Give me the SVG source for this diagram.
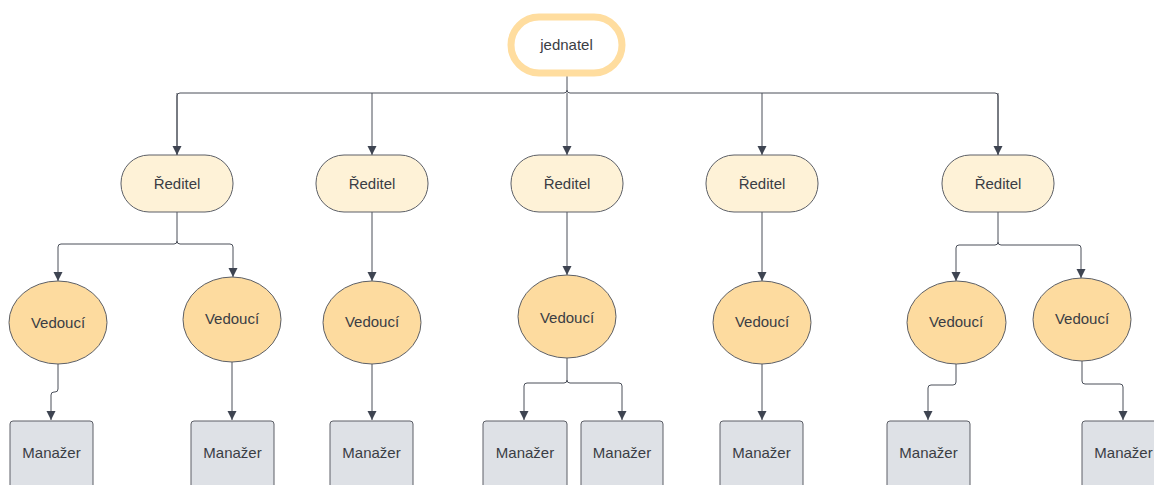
<svg xmlns="http://www.w3.org/2000/svg" width="1154" height="485" viewBox="0 0 1154 485">
<defs>
<marker id="arr" viewBox="0 0 10 10" refX="10" refY="5" markerWidth="9" markerHeight="10" markerUnits="userSpaceOnUse" orient="auto">
<path d="M0,0 L10,5 L0,10 Z" fill="#3e4451"/>
</marker>
<style>
.lbl{font-family:"Liberation Sans",Arial,sans-serif;font-size:15px;fill:#3a3d44;text-anchor:middle;dominant-baseline:central}
.dir{fill:#fef2d7;stroke:#5c5f66;stroke-width:1}
.ved{fill:#fddb9f;stroke:#5c5f66;stroke-width:1}
.man{fill:#dee1e6;stroke:#5c5f66;stroke-width:1}
.c{fill:none;stroke:#4a4f59;stroke-width:1}
.a{marker-end:url(#arr)}
</style>
</defs>
<rect width="1154" height="485" fill="#ffffff"/>
<g id="connectors">
<path class="c" d="M567,74 V90 Q567,93 564,93 H180 Q177,93 177,96 V155"/>
<path class="c" d="M567,90 Q567,93 570,93 H995 Q998,93 998,96 V155"/>
<path class="c a" d="M372,93 V155"/>
<path class="c a" d="M567,93 V155"/>
<path class="c a" d="M762,93 V155"/>
<path class="c a" d="M177,93 V155"/>
<path class="c a" d="M998,93 V155"/>
<path class="c a" d="M177,212 V241 Q177,244 174,244 H61 Q58,244 58,247 V281"/>
<path class="c a" d="M177,241 Q177,244 180,244 H230 Q233,244 233,247 V277"/>
<path class="c a" d="M372,212 V281"/>
<path class="c a" d="M567,212 V275"/>
<path class="c a" d="M762,212 V281"/>
<path class="c a" d="M998,212 V242 Q998,245 995,245 H959 Q956,245 956,248 V281"/>
<path class="c a" d="M998,242 Q998,245 1001,245 H1078 Q1081,245 1081,248 V278"/>
<path class="c a" d="M58,364 V389 Q58,392 55,392 H54 Q51,392 51,395 V420"/>
<path class="c a" d="M232,362 V420"/>
<path class="c a" d="M372,364 V420"/>
<path class="c a" d="M567,358 V380 Q567,383 564,383 H527 Q524,383 524,386 V420"/>
<path class="c a" d="M567,380 Q567,383 570,383 H619 Q622,383 622,386 V420"/>
<path class="c a" d="M762,364 V420"/>
<path class="c a" d="M956,364 V382 Q956,385 953,385 H931 Q928,385 928,388 V420"/>
<path class="c a" d="M1082,361 V381 Q1082,384 1085,384 H1120 Q1123,384 1123,387 V420"/>
</g>
<g id="jednatel">
<rect x="511" y="17" width="111" height="56" rx="28" fill="#ffffff" stroke="#ffdd9f" stroke-width="7"/>
<text class="lbl" x="566.5" y="44">jednatel</text>
</g>
<g id="reditel1"><rect class="dir" x="121" y="155" width="112" height="57" rx="28"/><text class="lbl" x="177" y="183">Ředitel</text></g>
<g id="reditel2"><rect class="dir" x="316" y="155" width="112" height="57" rx="28"/><text class="lbl" x="372" y="183">Ředitel</text></g>
<g id="reditel3"><rect class="dir" x="511" y="155" width="112" height="57" rx="28"/><text class="lbl" x="567" y="183">Ředitel</text></g>
<g id="reditel4"><rect class="dir" x="706" y="155" width="112" height="57" rx="28"/><text class="lbl" x="762" y="183">Ředitel</text></g>
<g id="reditel5"><rect class="dir" x="942" y="155" width="112" height="57" rx="28"/><text class="lbl" x="998" y="183">Ředitel</text></g>
<g id="vedouci1"><ellipse class="ved" cx="58" cy="322.5" rx="49" ry="41.5"/><text class="lbl" x="58" y="322">Vedoucí</text></g>
<g id="vedouci2"><ellipse class="ved" cx="232" cy="319.5" rx="49" ry="42.5"/><text class="lbl" x="232" y="318">Vedoucí</text></g>
<g id="vedouci3"><ellipse class="ved" cx="372" cy="322.5" rx="49" ry="41.5"/><text class="lbl" x="372" y="321">Vedoucí</text></g>
<g id="vedouci4"><ellipse class="ved" cx="567" cy="316.5" rx="49" ry="41.5"/><text class="lbl" x="567" y="317">Vedoucí</text></g>
<g id="vedouci5"><ellipse class="ved" cx="762" cy="322.5" rx="49" ry="41.5"/><text class="lbl" x="762" y="321">Vedoucí</text></g>
<g id="vedouci6"><ellipse class="ved" cx="956.5" cy="322.5" rx="49.5" ry="41.5"/><text class="lbl" x="956" y="321">Vedoucí</text></g>
<g id="vedouci7"><ellipse class="ved" cx="1082" cy="319.5" rx="49" ry="41.5"/><text class="lbl" x="1082" y="318">Vedoucí</text></g>
<g id="manazer1"><rect class="man" x="10" y="421" width="83" height="80" rx="3"/><text class="lbl" x="51.5" y="452">Manažer</text></g>
<g id="manazer2"><rect class="man" x="191" y="421" width="83" height="80" rx="3"/><text class="lbl" x="232.5" y="452">Manažer</text></g>
<g id="manazer3"><rect class="man" x="330" y="421" width="83" height="80" rx="3"/><text class="lbl" x="371.5" y="452">Manažer</text></g>
<g id="manazer4"><rect class="man" x="483" y="421" width="84" height="80" rx="3"/><text class="lbl" x="525" y="452">Manažer</text></g>
<g id="manazer5"><rect class="man" x="581" y="421" width="82" height="80" rx="3"/><text class="lbl" x="622" y="452">Manažer</text></g>
<g id="manazer6"><rect class="man" x="720" y="421" width="83" height="80" rx="3"/><text class="lbl" x="761.5" y="452">Manažer</text></g>
<g id="manazer7"><rect class="man" x="887" y="421" width="83" height="80" rx="3"/><text class="lbl" x="928.5" y="452">Manažer</text></g>
<g id="manazer8"><rect class="man" x="1082" y="421" width="83" height="80" rx="3"/><text class="lbl" x="1123.5" y="452">Manažer</text></g>
</svg>
